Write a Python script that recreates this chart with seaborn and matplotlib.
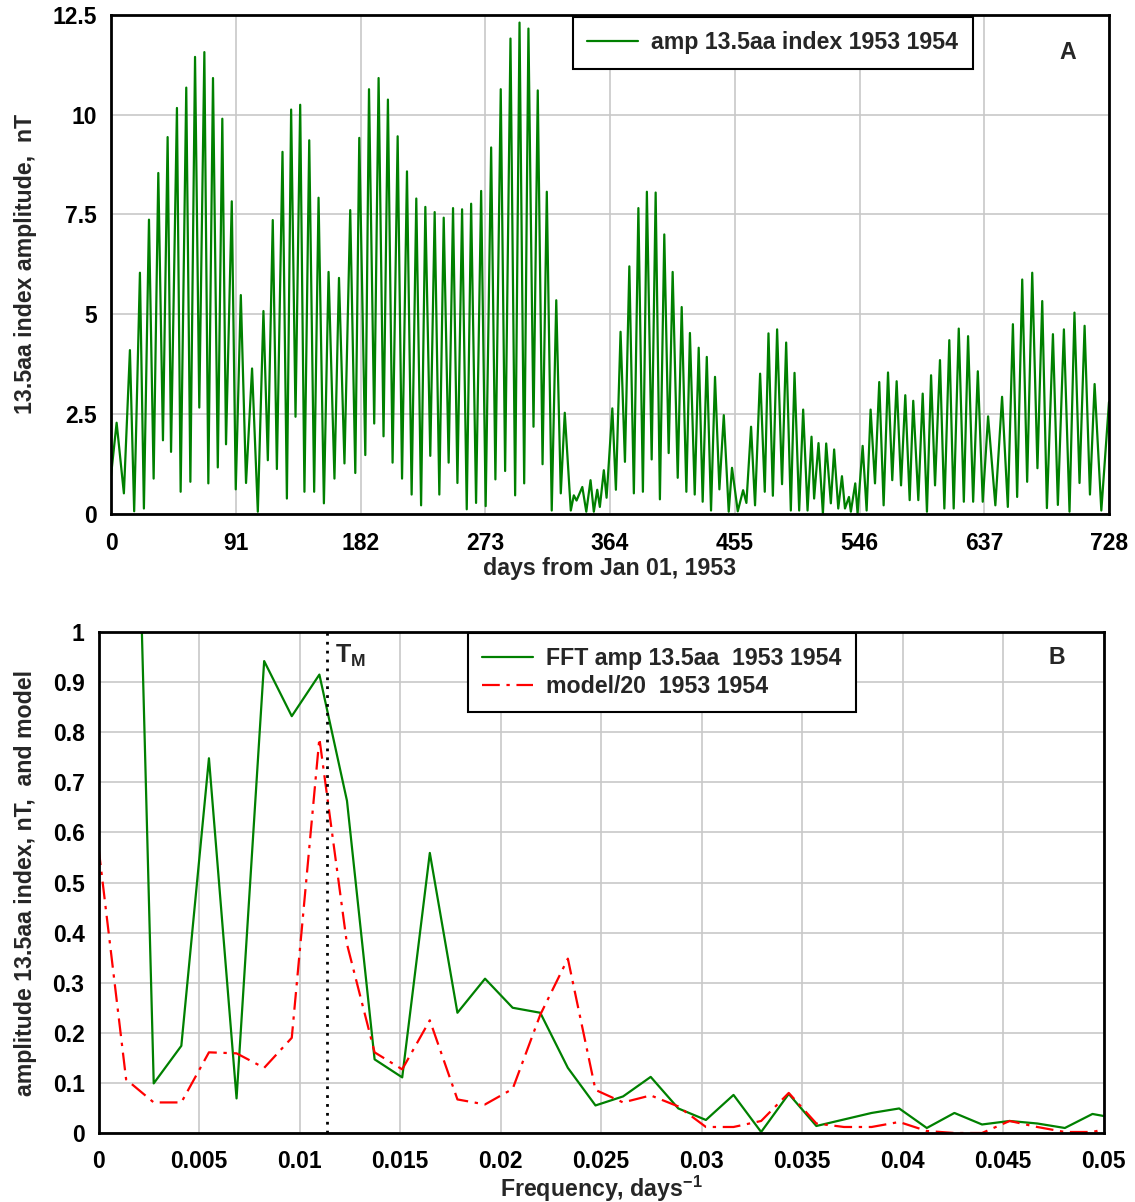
import numpy as np
import pandas as pd
import matplotlib
matplotlib.use("Agg")
import matplotlib.pyplot as plt
import seaborn as sns

# ---------------------------------------------------------------------------
# Panel A: amplitude of the 13.5-day aa-index component (turning points)
# ---------------------------------------------------------------------------
days = [
    0, 4.1, 9.4, 13.8, 16.9, 21.1, 24.0, 27.7, 31.1, 34.5,
    37.9, 41.3, 43.8, 48.1, 50.8, 54.9, 57.9, 61.3, 64.4, 68.1,
    71.0, 74.4, 77.9, 81.2, 83.9, 88.1, 91.0, 94.7, 98.5, 102.9,
    107.1, 111.2, 114.4, 118.0, 121.0, 125.1, 128.3, 131.4, 134.6, 138.0,
    141.1, 144.6, 148.2, 151.4, 155.3, 158.7, 163.0, 166.3, 170.3, 174.5,
    178.2, 181.1, 185.5, 188.2, 192.0, 195.2, 198.8, 202.0, 205.4, 209.1,
    212.3, 215.9, 219.3, 222.7, 226.2, 229.3, 232.9, 236.1, 239.5, 242.7,
    246.3, 249.5, 252.7, 256.1, 259.5, 262.7, 266.3, 270.0, 273.3, 277.3,
    280.4, 284.3, 287.5, 291.4, 294.8, 298.0, 301.4, 304.5, 308.2, 311.3,
    314.8, 317.9, 321.5, 324.8, 328.1, 331.0, 335.4, 337.6, 339.6, 343.8,
    346.7, 349.8, 352.2, 354.7, 356.6, 359.5, 361.5, 365.7, 368.3, 371.7,
    374.9, 378.1, 381.4, 384.7, 388.0, 390.9, 394.4, 397.3, 400.4, 403.6,
    406.8, 409.7, 413.4, 416.3, 419.7, 422.3, 425.8, 428.7, 431.6, 434.6,
    437.7, 440.6, 443.8, 447.0, 450.6, 453.0, 457.2, 461.1, 463.5, 466.9,
    469.8, 473.5, 476.9, 479.6, 482.8, 485.9, 489.5, 492.5, 495.9, 498.6,
    502.0, 504.9, 508.1, 511.0, 512.9, 516.1, 519.3, 521.7, 525.1, 527.5,
    530.5, 533.2, 535.4, 538.3, 539.7, 542.9, 544.6, 548.3, 551.2, 554.1,
    557.3, 560.4, 563.6, 566.8, 569.9, 573.1, 576.3, 579.4, 582.6, 585.2,
    588.9, 592.1, 595.2, 598.2, 601.1, 604.7, 607.9, 611.5, 614.7, 618.4,
    622.1, 625.2, 628.9, 632.3, 635.9, 639.8, 645.1, 650.0, 654.2, 657.9,
    661.0, 664.7, 668.3, 672.0, 675.8, 679.3, 682.7, 687.1, 690.7, 695.1,
    699.2, 702.8, 706.5, 710.2, 714.1, 717.5, 722.4, 728.0,
]
amp_13_5 = [
    0.95, 2.28, 0.51, 4.10, 0.06, 6.04, 0.13, 7.37, 0.88, 8.54,
    1.84, 9.44, 1.55, 10.17, 0.55, 10.68, 0.80, 11.45, 2.66, 11.57,
    0.76, 10.92, 1.16, 9.90, 1.74, 7.83, 0.61, 5.48, 0.77, 3.64,
    0.05, 5.08, 1.34, 7.36, 1.12, 9.07, 0.38, 10.13, 2.43, 10.25,
    0.55, 9.36, 0.55, 7.92, 0.26, 6.06, 0.88, 5.91, 1.26, 7.61,
    1.02, 9.42, 1.47, 10.64, 2.26, 10.92, 1.94, 10.38, 1.28, 9.46,
    0.88, 8.58, 0.48, 7.90, 0.21, 7.69, 1.45, 7.56, 0.48, 7.42,
    1.28, 7.66, 0.77, 7.63, 0.11, 7.77, 0.27, 8.09, 0.19, 9.18,
    0.86, 10.64, 1.07, 11.91, 0.46, 12.31, 0.76, 12.16, 2.18, 10.61,
    1.24, 8.07, 0.08, 5.35, 0.51, 2.53, 0.08, 0.46, 0.33, 0.67,
    0.05, 0.84, 0.05, 0.60, 0.17, 1.09, 0.40, 2.64, 0.60, 4.56,
    1.30, 6.20, 0.51, 7.66, 0.55, 8.07, 1.36, 8.05, 0.36, 7.00,
    1.52, 6.06, 0.90, 5.18, 0.55, 4.53, 0.48, 4.16, 0.30, 3.93,
    0.08, 3.43, 0.61, 2.47, 0.05, 1.15, 0.06, 0.59, 0.27, 2.18,
    0.21, 3.51, 0.55, 4.52, 0.45, 4.62, 0.74, 4.29, 0.08, 3.53,
    0.08, 2.61, 0.08, 1.93, 0.38, 1.77, 0.0, 1.76, 0.26, 1.61,
    0.13, 0.94, 0.13, 0.42, 0.05, 0.76, 0.0, 1.70, 0.08, 2.61,
    0.76, 3.30, 0.21, 3.54, 0.84, 3.32, 0.71, 2.97, 0.34, 2.83,
    0.34, 3.01, 0.05, 3.47, 0.71, 3.85, 0.13, 4.35, 0.13, 4.64,
    0.30, 4.45, 0.30, 3.57, 0.30, 2.44, 0.21, 2.93, 0.17, 4.75,
    0.42, 5.87, 0.80, 6.04, 1.14, 5.33, 0.14, 4.50, 0.22, 4.62,
    0.05, 5.04, 0.77, 4.71, 0.48, 3.25, 0.08, 2.80,
]
day_ticks = [0, 91, 182, 273, 364, 455, 546, 637, 728]
amp_ticks = [0, 2.5, 5, 7.5, 10, 12.5]
amp_tick_labels = ["0", "2.5", "5", "7.5", "10", "12.5"]

# ---------------------------------------------------------------------------
# Panel B: FFT amplitude spectrum and model/20 (bins k/728 days^-1)
# ---------------------------------------------------------------------------
n_days = 728
fft_amp = [
    4.4, 2.2, 0.099, 0.174, 0.748, 0.069, 0.942, 0.832, 0.915, 0.663,
    0.147, 0.111, 0.559, 0.240, 0.308, 0.250, 0.240, 0.130, 0.055, 0.073,
    0.112, 0.049, 0.026, 0.076, 0.002, 0.078, 0.014, 0.027, 0.040, 0.049,
    0.010, 0.040, 0.017, 0.024, 0.019, 0.010, 0.038, 0.028,
]
model_amp = [
    0.570, 0.107, 0.061, 0.061, 0.161, 0.159, 0.130, 0.190, 0.788, 0.377,
    0.161, 0.127, 0.225, 0.067, 0.057, 0.088, 0.236, 0.348, 0.086, 0.061,
    0.075, 0.053, 0.012, 0.012, 0.024, 0.080, 0.019, 0.012, 0.012, 0.022,
    0.004, 0.0, 0.0, 0.024, 0.012, 0.002, 0.002, 0.015,
]
freq = np.arange(len(fft_amp)) / n_days
t_m_period = 88.0  # days
freq_ticks = [0, 0.005, 0.01, 0.015, 0.02, 0.025, 0.03, 0.035, 0.04, 0.045, 0.05]
freq_tick_labels = ["0", "0.005", "0.01", "0.015", "0.02", "0.025", "0.03",
                    "0.035", "0.04", "0.045", "0.05"]
spec_ticks = [0, 0.1, 0.2, 0.3, 0.4, 0.5, 0.6, 0.7, 0.8, 0.9, 1]
spec_tick_labels = ["0", "0.1", "0.2", "0.3", "0.4", "0.5", "0.6", "0.7",
                    "0.8", "0.9", "1"]

df_a = pd.DataFrame({"day": days, "amp": amp_13_5})
df_b = pd.DataFrame({"freq": freq, "fft": fft_amp, "model": model_amp})

# ---------------------------------------------------------------------------
# Style
# ---------------------------------------------------------------------------
sns.set_theme(style="whitegrid")
plt.rcParams["font.family"] = ["Liberation Sans", "DejaVu Sans"]
plt.rcParams["font.weight"] = "bold"
plt.rcParams["axes.labelweight"] = "bold"
plt.rcParams["mathtext.fontset"] = "custom"
plt.rcParams["mathtext.rm"] = "Liberation Sans:bold"
plt.rcParams["mathtext.it"] = "Liberation Sans:bold"
plt.rcParams["mathtext.bf"] = "Liberation Sans:bold"

GREEN = "#008000"
RED = "#ff0000"
GRID = "#c8c8c8"
TICK_FS = 16.5
LABEL_FS = 16.7
LEG_FS = 16.7

fig = plt.figure(figsize=(11.35, 12.02), dpi=100)
W, H = 1135.0, 1202.0


def style_axes(ax):
    ax.set_facecolor("white")
    ax.grid(True, color=GRID, linewidth=1.2)
    ax.set_axisbelow(True)
    for s in ax.spines.values():
        s.set_color("black")
        s.set_linewidth(2.0)
        s.set_visible(True)
    ax.tick_params(axis="both", length=0, labelsize=TICK_FS, colors="black")
    for lab in ax.get_xticklabels() + ax.get_yticklabels():
        lab.set_fontweight("bold")


# ---------------- Panel A ----------------
ax1 = fig.add_axes([111 / W, 1 - 513.7 / H, 998 / W, 498.7 / H])
sns.lineplot(data=df_a, x="day", y="amp", ax=ax1, color=GREEN, linewidth=1.6,
             estimator=None, sort=False, label="amp 13.5aa index 1953 1954")
ax1.set_xlim(0, 728)
ax1.set_ylim(0, 12.5)
ax1.set_xticks(day_ticks)
ax1.set_xticklabels([str(d) for d in day_ticks])
ax1.set_yticks(amp_ticks)
ax1.set_yticklabels(amp_tick_labels)
style_axes(ax1)
ax1.tick_params(axis="x", pad=13)
ax1.tick_params(axis="y", pad=10)
ax1.set_xlabel("days from Jan 01, 1953", fontsize=LABEL_FS, fontweight="bold",
               va="center")
ax1.xaxis.set_label_coords(0.5, -0.109)
ax1.set_ylabel("13.5aa index amplitude,  nT", fontsize=LABEL_FS,
               fontweight="bold", labelpad=11)
leg1 = ax1.legend(loc="upper left", bbox_to_anchor=(0.463, 0.996),
                  fontsize=LEG_FS, frameon=True, fancybox=False,
                  edgecolor="black", framealpha=1, handlelength=2.2,
                  handletextpad=0.55, borderpad=0.62, borderaxespad=0)
leg1.get_frame().set_linewidth(1.5)
for t in leg1.get_texts():
    t.set_fontweight("bold")
ax1.text(0.959, 0.924, "A", transform=ax1.transAxes, fontsize=LEG_FS,
         fontweight="bold", ha="center", va="center")

# ---------------- Panel B ----------------
ax2 = fig.add_axes([98.5 / W, 1 - 1133 / H, 1005 / W, 501 / H])
sns.lineplot(data=df_b, x="freq", y="fft", ax=ax2, color=GREEN, linewidth=1.6,
             estimator=None, sort=False, label="FFT amp 13.5aa  1953 1954")
sns.lineplot(data=df_b, x="freq", y="model", ax=ax2, color=RED, linewidth=1.6,
             estimator=None, sort=False, linestyle=(0, (8, 3, 1.5, 3)),
             label="model/20  1953 1954")
ax2.axvline(1 / t_m_period, color="black", linewidth=2,
            linestyle=(0, (1, 2.2)), zorder=3)
ax2.text(1 / t_m_period + 0.0004, 0.953, r"T$_\mathrm{M}$", fontsize=18,
         fontweight="bold", ha="left", va="center")
ax2.set_xlim(0, 0.05)
ax2.set_ylim(0, 1)
ax2.set_xticks(freq_ticks)
ax2.set_xticklabels(freq_tick_labels)
ax2.set_yticks(spec_ticks)
ax2.set_yticklabels(spec_tick_labels)
style_axes(ax2)
ax2.tick_params(axis="x", pad=12)
ax2.tick_params(axis="y", pad=10)
ax2.set_xlabel(r"Frequency, days$^{-1}$", fontsize=LABEL_FS,
               fontweight="bold", va="center")
ax2.xaxis.set_label_coords(0.5, -0.112)
ax2.set_ylabel("amplitude 13.5aa index, nT,  and model", fontsize=LABEL_FS,
               fontweight="bold", labelpad=11)
leg2 = ax2.legend(loc="upper left", bbox_to_anchor=(0.3677, 0.998),
                  fontsize=LEG_FS, frameon=True, fancybox=False,
                  edgecolor="black", framealpha=1, handlelength=2.2,
                  handletextpad=0.55, borderpad=0.62, borderaxespad=0,
                  labelspacing=0.2)
leg2.get_frame().set_linewidth(1.5)
for t in leg2.get_texts():
    t.set_fontweight("bold")
ax2.text(0.954, 0.950, "B", transform=ax2.transAxes, fontsize=LEG_FS,
         fontweight="bold", ha="center", va="center")

fig.savefig("out.png", dpi=100, facecolor="white")
